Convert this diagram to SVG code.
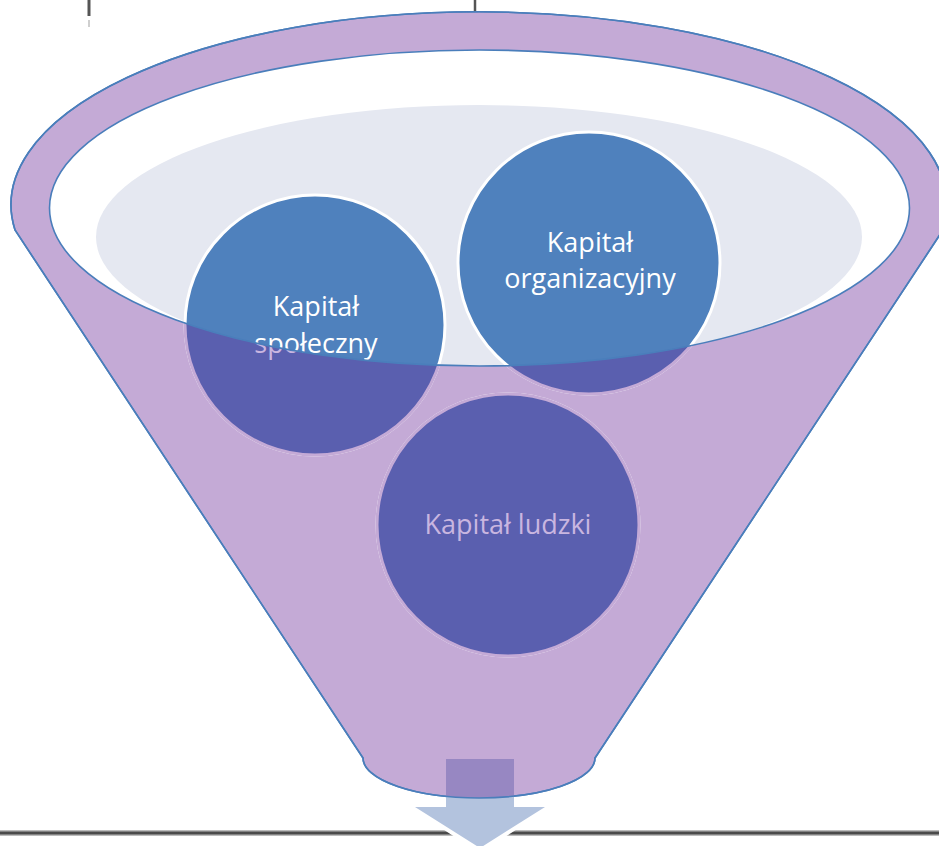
<svg xmlns="http://www.w3.org/2000/svg" width="939" height="846" viewBox="0 0 939 846">
  <defs>
    <style>
      .lbl { font-family: "Open Sans", "Noto Sans", "Liberation Sans", sans-serif; font-size: 27px; text-anchor: middle; fill: #ffffff; }
      .lbl-front { fill: #C9B6E0; }
      .node { fill: #4F81BD; stroke: #ffffff; stroke-width: 3; }
      .node-front { fill: #5A5FAF; stroke: #C4AAD6; stroke-width: 3; }
      .outline { fill: none; stroke: #4A7EBB; stroke-width: 1.6; }
    </style>
    <linearGradient id="lineGrad" x1="0" y1="0" x2="0" y2="1">
      <stop offset="0" stop-color="#d8d8d8"/>
      <stop offset="0.5" stop-color="#2e2e2e"/>
      <stop offset="1" stop-color="#d8d8d8"/>
    </linearGradient>
    <clipPath id="clipInner">
      <ellipse cx="479.5" cy="208" rx="430" ry="158"/>
    </clipPath>
    <clipPath id="clipFront">
      <path clip-rule="evenodd" d="M0 0 H939 V846 H0 Z M49.5 208 A430 158 0 1 0 909.5 208 A430 158 0 1 0 49.5 208 Z"/>
    </clipPath>
    <clipPath id="clipFunnel">
      <path d="M15 230 A468 193 0 1 1 943 230 L595 758 A116 40 0 0 1 363 758 Z"/>
    </clipPath>
  </defs>

  <rect x="0" y="0" width="939" height="846" fill="#ffffff"/>

  <!-- page remnants -->
  <g id="page-marks">
    <line x1="89" y1="0" x2="89" y2="16" stroke="#555555" stroke-width="3"/>
    <line x1="89" y1="20" x2="89" y2="27" stroke="#cfcfcf" stroke-width="2"/>
    <line x1="475" y1="0" x2="475" y2="15" stroke="#555555" stroke-width="2.5"/>
    <line x1="475" y1="19" x2="475" y2="26" stroke="#cfcfcf" stroke-width="2"/>
    <rect x="0" y="830" width="939" height="6" fill="url(#lineGrad)"/>
  </g>

  <!-- funnel body -->
  <g id="funnel">
    <path d="M15 230 A468 193 0 1 1 943 230 L595 758 A116 40 0 0 1 363 758 Z" fill="#C4AAD6" stroke="#4A7EBB" stroke-width="1.6"/>
    <ellipse cx="479.5" cy="208" rx="430" ry="158" fill="#ffffff"/>
    <ellipse cx="479" cy="237" rx="383" ry="132" fill="#E5E8F1" clip-path="url(#clipInner)"/>
  </g>

  <g id="node-spoleczny">
    <circle class="node" cx="315" cy="325" r="130"/>
    <text class="lbl" x="316" y="316">Kapitał</text>
    <text class="lbl" x="316" y="353">społeczny</text>
    <g clip-path="url(#clipFront)">
      <circle class="node-front" cx="315" cy="325" r="130"/>
      <text class="lbl lbl-front" x="316" y="316">Kapitał</text>
      <text class="lbl lbl-front" x="316" y="353">społeczny</text>
    </g>
  </g>

  <g id="node-organizacyjny">
    <circle class="node" cx="589" cy="263" r="131"/>
    <text class="lbl" x="590" y="252">Kapitał</text>
    <text class="lbl" x="590" y="288">organizacyjny</text>
    <g clip-path="url(#clipFront)">
      <circle class="node-front" cx="589" cy="263" r="131"/>
      <text class="lbl lbl-front" x="590" y="252">Kapitał</text>
      <text class="lbl lbl-front" x="590" y="288">organizacyjny</text>
    </g>
  </g>

  <g id="node-ludzki">
    <circle class="node" cx="508" cy="525" r="131"/>
    <text class="lbl" x="508" y="534">Kapitał ludzki</text>
    <g clip-path="url(#clipFront)">
      <circle class="node-front" cx="508" cy="525" r="131"/>
      <text class="lbl lbl-front" x="508" y="534">Kapitał ludzki</text>
    </g>
  </g>

  <g id="funnel-rim">
    <ellipse class="outline" cx="479.5" cy="208" rx="430" ry="158"/>
  </g>

  <g id="connectors">
    <polyline points="412,805 480,849 548,805" fill="none" stroke="#ffffff" stroke-width="7" stroke-linejoin="miter"/>
    <polygon points="446,759 514,759 514,807 545,807 480,848 415,807 446,807" fill="#B3C3DE"/>
    <rect x="446" y="759" width="68" height="48" fill="#9787C2" clip-path="url(#clipFunnel)"/>
    <path class="outline" d="M15 230 A468 193 0 1 1 943 230 L595 758 A116 40 0 0 1 363 758 Z"/>
  </g>
</svg>
